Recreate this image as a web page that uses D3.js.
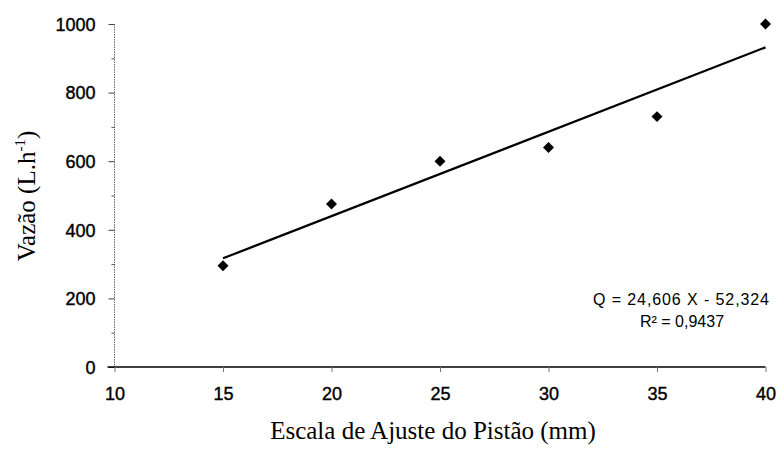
<!DOCTYPE html>
<html>
<head>
<meta charset="utf-8">
<script src="https://cdn.jsdelivr.net/npm/d3@7"></script>
<style>
  html, body { margin: 0; padding: 0; background: #fff; }
  svg { display: block; }
</style>
</head>
<body>
<svg id="chart" width="779" height="454"></svg>
<script>
// Piston adjustment scale (mm) vs. measured flow (L/h)
const escala = [15, 20, 25, 30, 35, 40];
const vazao = [295, 475, 600, 640, 730, 1000];
// Linear fit Q = a X + b
const coefA = 24.606;
const coefB = -52.324;
const xTicks = [10, 15, 20, 25, 30, 35, 40];
const yTicks = [0, 200, 400, 600, 800, 1000];
const yMinorTicks = [100, 300, 500, 700, 900];

const svg = d3.select("#chart");
const x = d3.scaleLinear().domain([10, 40]).range([114.5, 765.5]);
const y = d3.scaleLinear().domain([0, 1000]).range([367, 24]);

const sans = "'Liberation Sans', Arial, sans-serif";
const serif = "'Liberation Serif', 'Times New Roman', serif";

// Y axis: dotted grey spine, major ticks outward, short minor ticks
const yAxis = svg.append("g").attr("transform", `translate(${x(10)},0)`)
  .call(d3.axisLeft(y).tickValues(yTicks).tickSize(6).tickPadding(13).tickFormat(d3.format("d")));
yAxis.select(".domain").attr("stroke", "#666").attr("stroke-dasharray", "1.5,1").attr("d", `M0,${y(1000)}V${y(0)}`);
yAxis.selectAll(".tick line").attr("stroke", "#444");
yAxis.selectAll(".tick text").attr("font-family", sans).attr("font-size", 18).attr("fill", "#000")
  .attr("stroke", "#000").attr("stroke-width", 0.4).attr("dy", "0.35em");
svg.append("g").attr("transform", `translate(${x(10)},0)`)
  .call(d3.axisLeft(y).tickValues(yMinorTicks).tickSize(3).tickFormat(""))
  .call(g => g.select(".domain").remove())
  .selectAll(".tick line").attr("stroke", "#555");

// X axis: solid black baseline, ticks downward
const xAxis = svg.append("g").attr("transform", `translate(0,${y(0)})`)
  .call(d3.axisBottom(x).tickValues(xTicks).tickSize(5).tickPadding(15));
xAxis.select(".domain").attr("stroke", "#000").attr("stroke-width", 1.6).attr("d", `M${x(10) - 7},0H${x(40)}`);
xAxis.selectAll(".tick line").attr("stroke", "#777");
xAxis.selectAll(".tick text").attr("font-family", sans).attr("font-size", 18).attr("fill", "#000")
  .attr("stroke", "#000").attr("stroke-width", 0.4);

// Regression line over the measured range
const fitX = [d3.min(escala), d3.max(escala)];
svg.append("path")
  .attr("d", d3.line().x(d => x(d)).y(d => y(coefA * d + coefB))(fitX))
  .attr("fill", "none").attr("stroke", "#000").attr("stroke-width", 2.2);

// Observed points as diamonds
svg.append("g").selectAll("path").data(escala).join("path")
  .attr("transform", (d, i) => `translate(${x(d)},${y(vazao[i])}) rotate(45)`)
  .attr("d", d3.symbol().type(d3.symbolSquare).size(60)())
  .attr("fill", "#000");

// Equation and R²
const fmt = v => d3.format(".3f")(Math.abs(v)).replace(".", ",");
svg.append("text").attr("x", 769).attr("y", 305).attr("text-anchor", "end")
  .attr("font-family", sans).attr("font-size", 16).attr("fill", "#000")
  .attr("textLength", 176)
  .text(`Q = ${fmt(coefA)} X  - ${fmt(coefB)}`);
svg.append("text").attr("x", 682).attr("y", 327).attr("text-anchor", "middle")
  .attr("font-family", sans).attr("font-size", 16).attr("fill", "#000")
  .text("R² = 0,9437");

// Axis titles
svg.append("text").attr("x", 433).attr("y", 439).attr("text-anchor", "middle")
  .attr("font-family", serif).attr("font-size", 25).attr("fill", "#000")
  .text("Escala de Ajuste do Pistão (mm)");

const yt = svg.append("text").attr("transform", "translate(35,196) rotate(-90)")
  .attr("text-anchor", "middle").attr("font-family", serif).attr("font-size", 25).attr("fill", "#000");
yt.append("tspan").text("Vazão (L.h");
yt.append("tspan").attr("font-size", 15).attr("dy", -10).text("-1");
yt.append("tspan").attr("dy", 10).text(")");
</script>
</body>
</html>
